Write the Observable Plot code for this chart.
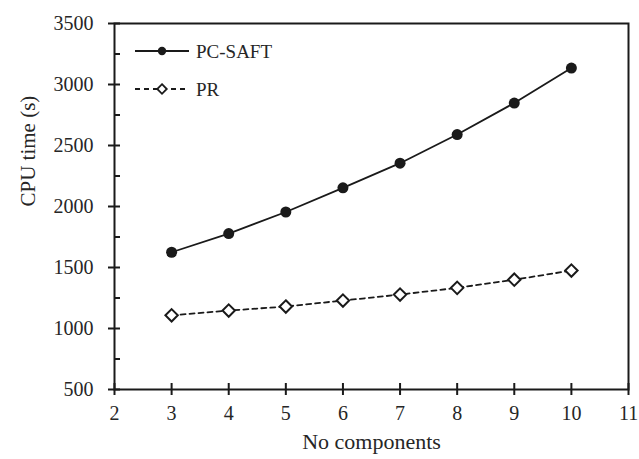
<!DOCTYPE html>
<html>
<head>
<meta charset="utf-8">
<script src="https://cdn.jsdelivr.net/npm/d3@7"></script>
<script src="https://cdn.jsdelivr.net/npm/@observablehq/plot@0.6"></script>
<style>
  html, body { margin: 0; padding: 0; background: #fff; }
  #chart svg { display: block; }
</style>
</head>
<body>
<div id="chart"></div>
<script>
// Number of components in the mixture
const components = [3, 4, 5, 6, 7, 8, 9, 10];
// CPU time (s) for each equation of state
const pcsaftTime = [1625, 1778, 1955, 2153, 2355, 2590, 2848, 3135];
const prTime = [1108, 1147, 1180, 1229, 1278, 1333, 1400, 1475];

// Axis ticks
const xTicks = [2, 3, 4, 5, 6, 7, 8, 9, 10, 11];
const yMajorTicks = [500, 1000, 1500, 2000, 2500, 3000, 3500];
const yMinorTicks = [750, 1250, 1750, 2250, 2750, 3250];
const xDomain = [2, 11];
const yDomain = [500, 3500];

const seriesNames = ["PC-SAFT", "PR"];
const xLabel = "No components";
const yLabel = "CPU time (s)";

const ink = "#1a1a1a";
const textInk = "#262626";
const serif = "'Liberation Serif', 'Times New Roman', serif";

const pcsaft = components.map((c, i) => ({n: c, t: pcsaftTime[i]}));
const pr = components.map((c, i) => ({n: c, t: prTime[i]}));

const marginLeft = 114, marginTop = 23;

const plot = Plot.plot({
  width: 639,
  height: 459,
  marginLeft,
  marginRight: 11,
  marginTop,
  marginBottom: 70,
  style: {fontFamily: serif, fontSize: "20px", color: textInk, background: "#fff"},
  x: {domain: xDomain},
  y: {domain: yDomain},
  marks: [
    Plot.frame({stroke: ink, strokeWidth: 2}),
    // x ticks crossing the bottom axis
    Plot.ruleX(xTicks, {x: d => d, y1: yDomain[0], y2: yDomain[0], insetTop: -6, insetBottom: -6, stroke: ink, strokeWidth: 2}),
    Plot.axisX({ticks: xTicks, tickSize: 0, tickPadding: 16, tickFormat: d => String(d), label: null, fill: textInk}),
    // y minor ticks (inside) and major ticks (crossing the left axis)
    Plot.ruleY(yMinorTicks, {y: d => d, x1: xDomain[0], x2: xDomain[0], insetLeft: 6, insetRight: 0, stroke: ink, strokeWidth: 2}),
    Plot.ruleY(yMajorTicks, {y: d => d, x1: xDomain[0], x2: xDomain[0], insetLeft: 6, insetRight: 6, stroke: ink, strokeWidth: 2}),
    Plot.axisY({ticks: yMajorTicks, tickSize: 0, tickPadding: 21, tickFormat: d => String(d), label: null, fill: textInk}),
    // axis titles
    Plot.text([xLabel], {frameAnchor: "bottom", dy: 59, text: d => d, fontSize: 22, fill: textInk}),
    Plot.text([yLabel], {frameAnchor: "left", dx: -86, rotate: -90, text: d => d, fontSize: 21, fill: textInk}),
    // PR series
    Plot.line(pr, {x: "n", y: "t", stroke: ink, strokeWidth: 1.8, strokeDasharray: "5,4"}),
    Plot.dot(pr, {x: "n", y: "t", symbol: "diamond2", r: 5.6, fill: "#fff", stroke: ink, strokeWidth: 2}),
    // PC-SAFT series
    Plot.line(pcsaft, {x: "n", y: "t", stroke: ink, strokeWidth: 1.8}),
    Plot.dot(pcsaft, {x: "n", y: "t", r: 5.5, fill: ink, stroke: "none"})
  ]
});

document.getElementById("chart").append(plot);

// Legend inside the upper-left corner of the frame
const svg = d3.select(plot);
const legend = svg.append("g")
  .attr("transform", `translate(${marginLeft + 21},${marginTop + 28})`)
  .attr("font-family", serif)
  .attr("font-size", 19)
  .attr("text-anchor", "start")
  .attr("fill", textInk);

const rowGap = 38;
seriesNames.forEach((name, i) => {
  const row = legend.append("g").attr("transform", `translate(0,${i * rowGap})`);
  row.append("line")
    .attr("x1", 0).attr("x2", 54).attr("y1", 0).attr("y2", 0)
    .attr("stroke", ink).attr("stroke-width", 1.8)
    .attr("stroke-dasharray", i === 1 ? "5,4" : null);
  if (i === 0) {
    row.append("circle").attr("cx", 27).attr("cy", 0).attr("r", 4.2).attr("fill", ink);
  } else {
    row.append("path")
      .attr("d", d3.symbol(d3.symbolDiamond2, 4.3 * 4.3 * Math.PI)())
      .attr("transform", "translate(27,0)")
      .attr("fill", "#fff").attr("stroke", ink).attr("stroke-width", 1.8);
  }
  row.append("text")
    .attr("x", 61).attr("y", 0).attr("dy", "0.35em")
    .attr("text-anchor", "start")
    .text(name);
});
</script>
</body>
</html>
